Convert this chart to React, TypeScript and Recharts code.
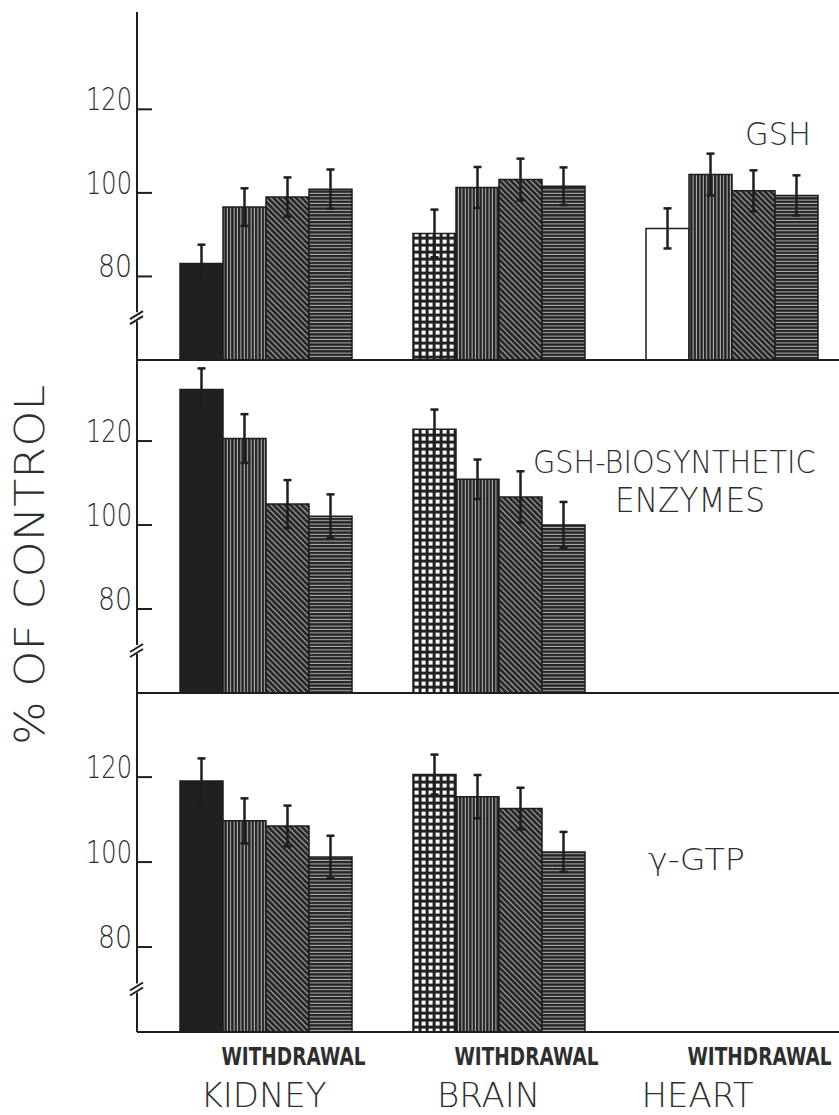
import React from 'react';
import { BarChart, Bar, XAxis, YAxis, ErrorBar, Cell } from 'recharts';

// ---------- data ----------
const organs = ['KIDNEY', 'BRAIN', 'HEART'];
const yTicks = [70, 80, 100, 120]; // 70 = axis break marker
const BREAK_VALUE = 70;

// Panel 1: GSH
const gshBar1 = [83.1, 90.3, 91.5];
const gshBar2 = [96.6, 101.3, 104.4];
const gshBar3 = [99.0, 103.2, 100.5];
const gshBar4 = [100.9, 101.6, 99.4];
const gshErr1 = [4.5, 5.7, 4.8];
const gshErr2 = [4.5, 4.9, 5.0];
const gshErr3 = [4.7, 5.0, 4.9];
const gshErr4 = [4.7, 4.5, 4.8];

// Panel 2: GSH-biosynthetic enzymes
const enzBar1 = [132.3, 122.8, null];
const enzBar2 = [120.6, 110.9, null];
const enzBar3 = [105.0, 106.7, null];
const enzBar4 = [102.1, 100.0, null];
const enzErr1 = [5.0, 4.7, null];
const enzErr2 = [5.8, 4.7, null];
const enzErr3 = [5.7, 6.1, null];
const enzErr4 = [5.2, 5.5, null];

// Panel 3: gamma-GTP
const gtpBar1 = [119.1, 120.6, null];
const gtpBar2 = [109.7, 115.4, null];
const gtpBar3 = [108.5, 112.6, null];
const gtpBar4 = [101.2, 102.4, null];
const gtpErr1 = [5.3, 4.7, null];
const gtpErr2 = [5.3, 5.1, null];
const gtpErr3 = [4.8, 4.9, null];
const gtpErr4 = [5.0, 4.7, null];

type N = number | null;
const makeRows = (b1: N[], b2: N[], b3: N[], b4: N[], e1: N[], e2: N[], e3: N[], e4: N[]) =>
  organs.map((o, i) => ({
    organ: o,
    v1: b1[i], v2: b2[i], v3: b3[i], v4: b4[i],
    e1: e1[i], e2: e2[i], e3: e3[i], e4: e4[i],
  }));

const gshRows = makeRows(gshBar1, gshBar2, gshBar3, gshBar4, gshErr1, gshErr2, gshErr3, gshErr4);
const enzRows = makeRows(enzBar1, enzBar2, enzBar3, enzBar4, enzErr1, enzErr2, enzErr3, enzErr4);
const gtpRows = makeRows(gtpBar1, gtpBar2, gtpBar3, gtpBar4, gtpErr1, gtpErr2, gtpErr3, gtpErr4);

// ---------- style ----------
const INK = '#1e1e1e';
const TEXT = '#2e2e2e';
const FONT = '"DejaVu Sans", "Liberation Sans", sans-serif';
const firstFills = ['url(#pSolid)', 'url(#pGrid)', '#ffffff'];
const organShift = [-2, -10, -34];

const YTick = (props: any) => {
  const { x, y, payload } = props;
  if (payload.value === BREAK_VALUE) {
    return (
      <g>
        <rect x={x - 3} y={y - 6} width={6} height={9} fill="#fff" />
        <line x1={x - 7} y1={y + 1} x2={x + 6} y2={y - 7} stroke={INK} strokeWidth={2} />
        <line x1={x - 7} y1={y + 6} x2={x + 6} y2={y - 2} stroke={INK} strokeWidth={2} />
      </g>
    );
  }
  const s = String(payload.value);
  return (
    <g>
      <line x1={x} y1={y} x2={x + 15} y2={y} stroke={INK} strokeWidth={2} />
      <text
        x={x - 5}
        y={y + 1}
        textAnchor="end"
        fontFamily={FONT}
        fontWeight={300}
        fontSize={32}
        fill={TEXT}
        textLength={s.length === 3 ? 46 : 34}
        lengthAdjust="spacingAndGlyphs"
      >
        {s}
      </text>
    </g>
  );
};

const XTick = (props: any) => {
  const { x, y, payload, index } = props;
  return (
    <g>
      <text
        transform={`translate(${x + 28},${y + 33}) scale(0.74,1)`}
        textAnchor="middle"
        fontFamily={FONT}
        fontWeight={700}
        fontSize={25}
        fill={TEXT}
      >
        WITHDRAWAL
      </text>
      <text
        x={x + organShift[index]}
        y={y + 75}
        textAnchor="middle"
        fontFamily={FONT}
        fontWeight={300}
        fontSize={34}
        fill={TEXT}
      >
        {payload.value}
      </text>
    </g>
  );
};

const Panel = ({ rows, top, height, marginTop, domain, last }: any) => (
  <div style={{ position: 'absolute', left: 0, top }}>
    <BarChart
      width={848}
      height={height}
      data={rows}
      margin={{ top: marginTop, right: 0, bottom: 0, left: 0 }}
      barCategoryGap={31}
      barGap={0}
    >
      <XAxis
        dataKey="organ"
        padding={{ left: 12, right: 0 }}
        axisLine={{ stroke: INK, strokeWidth: 2 }}
        tickLine={false}
        tickSize={0}
        tickMargin={0}
        height={last ? 83 : 2}
        tick={last ? <XTick /> : false}
        interval={0}
      />
      <YAxis
        width={137}
        type="number"
        domain={domain}
        allowDataOverflow
        ticks={yTicks}
        axisLine={{ stroke: INK, strokeWidth: 2 }}
        tickLine={false}
        tickSize={0}
        tickMargin={0}
        tick={<YTick />}
        interval={0}
      />
      <Bar dataKey="v1" isAnimationActive={false} stroke={INK} strokeWidth={1.5}>
        {rows.map((r: any, i: number) => (
          <Cell key={r.organ} fill={firstFills[i]} />
        ))}
        <ErrorBar dataKey="e1" stroke={INK} strokeWidth={2.5} width={4} direction="y" />
      </Bar>
      <Bar dataKey="v2" isAnimationActive={false} fill="url(#pVert)" stroke={INK} strokeWidth={1.5}>
        <ErrorBar dataKey="e2" stroke={INK} strokeWidth={2.5} width={4} direction="y" />
      </Bar>
      <Bar dataKey="v3" isAnimationActive={false} fill="url(#pDiag)" stroke={INK} strokeWidth={1.5}>
        <ErrorBar dataKey="e3" stroke={INK} strokeWidth={2.5} width={4} direction="y" />
      </Bar>
      <Bar dataKey="v4" isAnimationActive={false} fill="url(#pHoriz)" stroke={INK} strokeWidth={1.5}>
        <ErrorBar dataKey="e4" stroke={INK} strokeWidth={2.5} width={4} direction="y" />
      </Bar>
    </BarChart>
  </div>
);

const labelStyle = { fontFamily: FONT, fontWeight: 300, fill: TEXT } as any;

export default function App() {
  return (
    <div
      style={{
        position: 'absolute',
        left: 0,
        top: 0,
        width: 839,
        height: 1115,
        overflow: 'hidden',
        background: '#fff',
      }}
    >
      <svg width={0} height={0} style={{ position: 'absolute' }}>
        <defs>
          <pattern id="pSolid" patternUnits="userSpaceOnUse" width={4} height={4}>
            <rect width={4} height={4} fill="#202020" />
          </pattern>
          <pattern id="pGrid" patternUnits="userSpaceOnUse" width={7} height={7}>
            <rect width={7} height={7} fill="#222" />
            <rect x={1.6} y={1.6} width={4} height={4} fill="#fff" />
          </pattern>
          <pattern id="pVert" patternUnits="userSpaceOnUse" width={3.4} height={10}>
            <rect width={3.4} height={10} fill="#232323" />
            <rect x={2.4} width={0.9} height={10} fill="#cfcfcf" />
          </pattern>
          <pattern id="pDiag" patternUnits="userSpaceOnUse" width={4} height={10} patternTransform="rotate(-45)">
            <rect width={4} height={10} fill="#262626" />
            <rect x={2.9} width={0.9} height={10} fill="#c8c8c8" />
          </pattern>
          <pattern id="pHoriz" patternUnits="userSpaceOnUse" width={10} height={3.4}>
            <rect width={10} height={3.4} fill="#252525" />
            <rect y={2.4} width={10} height={0.9} fill="#c4c4c4" />
          </pattern>
        </defs>
      </svg>

      <Panel rows={gshRows} top={0} height={362} marginTop={12} domain={[60, 143.3]} />
      <Panel rows={enzRows} top={358} height={337} marginTop={2} domain={[60, 139.3]} />
      <Panel rows={gtpRows} top={691} height={424} marginTop={2} domain={[60, 139.8]} last />

      <svg
        width={839}
        height={1115}
        style={{ position: 'absolute', left: 0, top: 0, pointerEvents: 'none' }}
      >
        <text
          transform="translate(44,565) rotate(-90)"
          textAnchor="middle"
          fontSize={41}
          textLength={360}
          lengthAdjust="spacingAndGlyphs"
          {...labelStyle}
        >
          % OF CONTROL
        </text>
        <text x={745} y={145} fontSize={32} textLength={66} lengthAdjust="spacingAndGlyphs" {...labelStyle}>
          GSH
        </text>
        <text transform="translate(533,473) scale(0.9,1)" fontSize={32} {...labelStyle}>
          GSH-BIOSYNTHETIC
        </text>
        <text x={615} y={512} fontSize={34} textLength={150} lengthAdjust="spacingAndGlyphs" {...labelStyle}>
          ENZYMES
        </text>
        <text x={648} y={870} fontSize={30} textLength={97} lengthAdjust="spacingAndGlyphs" {...labelStyle}>
          γ-GTP
        </text>
      </svg>
    </div>
  );
}
